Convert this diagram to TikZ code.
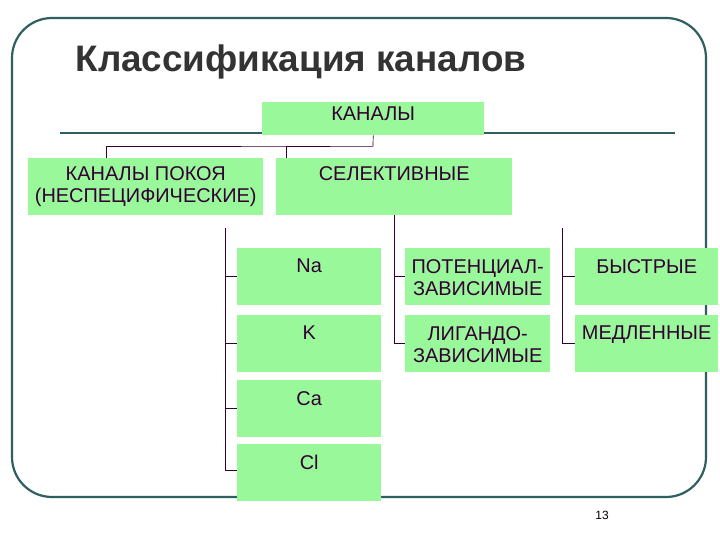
\documentclass[tikz,border=0pt]{standalone}
\usepackage{fontspec}
\setmainfont{Liberation Sans}
\definecolor{fr}{HTML}{2F5F5F}
\definecolor{gb}{HTML}{99F899}
\definecolor{tx}{HTML}{330033}
\definecolor{ln}{HTML}{330033}
\tikzset{
  box/.style={fill=gb, draw=none, anchor=north west, inner sep=0pt},
  txt/.style={anchor=north, text=tx, font=\fontsize{20}{23}\selectfont, align=center, inner sep=0pt, yshift=-11pt},
  conn/.style={draw=ln, line width=0.7pt}
}
\begin{document}
\begin{tikzpicture}[x=1bp,y=-1bp]
\useasboundingbox (0,0) rectangle (720,540);
\fill[white] (0,0) rectangle (720,540);
\draw[fr, line width=2.2pt, rounded corners=40bp] (12,18) rectangle (706,497);
\node[anchor=west, font=\bfseries\fontsize{37}{42}\selectfont, text=black!80] (title) at (72,62) {Классификация каналов};
\draw[fr, line width=3pt] (60,133) -- (675,133);
% boxes
\node[box, minimum width=222bp, minimum height=33bp] (kan) at (262,102) {};
\node[txt, yshift=6pt] (tkan) at (kan.north) {КАНАЛЫ};
\node[box, minimum width=235bp, minimum height=57bp] (pok) at (28,158) {};
\node[txt, yshift=3pt] (tpok) at (pok.north) {КАНАЛЫ ПОКОЯ\\(НЕСПЕЦИФИЧЕСКИЕ)};
\node[box, minimum width=236bp, minimum height=57bp] (sel) at (276,158) {};
\node[txt, yshift=3pt] (tsel) at (sel.north) {СЕЛЕКТИВНЫЕ};
\foreach \n/\y/\t in {na/248/Na, k/315/K, ca/380/Ca, cl/444/Cl}{
  \node[box, minimum width=144bp, minimum height=57bp] (\n) at (237,\y) {};
  \node[txt] (t\n) at (\n.north) {\t};
}
\node[box, minimum width=145bp, minimum height=57bp] (pot) at (405,248) {};
\node[txt] (tpot) at (pot.north) {ПОТЕНЦИАЛ-\\ЗАВИСИМЫЕ};
\node[box, minimum width=145bp, minimum height=57bp] (lig) at (405,315) {};
\node[txt] (tlig) at (lig.north) {ЛИГАНДО-\\ЗАВИСИМЫЕ};
\node[box, minimum width=143bp, minimum height=57bp] (bys) at (575,248) {};
\node[txt] (tbys) at (bys.north) {БЫСТРЫЕ};
\node[box, minimum width=143bp, minimum height=57bp] (med) at (575,315) {};
\node[txt] (tmed) at (med.north) {МЕДЛЕННЫЕ};
% connectors
\coordinate (j) at (373,146);
\draw[conn] (kan.south) -- (j);
\draw[conn] (pok.north -| 106,0) |- (j) -| (sel.north -| 286,0);
\coordinate (la) at (225,228);
\coordinate (ma) at (394,215);
\coordinate (ra) at (562,228);
\draw[conn] (la) |- (cl.west |- 0,470);
\draw[conn] (la |- 0,276) -- (na.west |- 0,276);
\draw[conn] (la |- 0,343) -- (k.west |- 0,343);
\draw[conn] (la |- 0,408) -- (ca.west |- 0,408);
\draw[conn] (ma) |- (lig.west |- 0,343);
\draw[conn] (ma |- 0,276) -- (pot.west |- 0,276);
\draw[conn] (ra) |- (med.west |- 0,343);
\draw[conn] (ra |- 0,276) -- (bys.west |- 0,276);
\node[font=\fontsize{12}{14}\selectfont] (pg) at (602,515) {13};
\end{tikzpicture}
\end{document}
